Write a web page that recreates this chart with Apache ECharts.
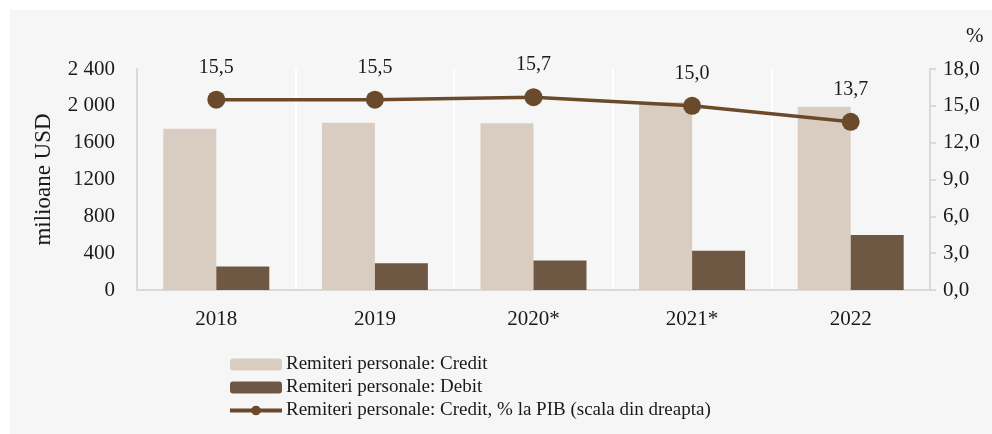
<!DOCTYPE html>
<html>
<head>
<meta charset="utf-8">
<script src="https://cdn.jsdelivr.net/npm/echarts@6/dist/echarts.min.js"></script>
<style>
    html, body { margin: 0; padding: 0; background: #fff; }
    #chart { width: 992px; height: 434px; }
</style>
</head>
<body>
<div id="chart"></div>
<script>
    // date
    var years = ['2018', '2019', '2020*', '2021*', '2022'];
    var credit = [1750, 1815, 1810, 2040, 1990];
    var debit = [255, 290, 320, 425, 597];
    var creditPib = [15.5, 15.5, 15.7, 15.0, 13.7];
    var leftTicks = {0: '0', 400: '400', 800: '800', 1200: '1200', 1600: '1600', 2000: '2 000', 2400: '2 400'};

    var font = '"Liberation Serif", serif';
    var txt = '#1a1a1a';
    var brown = '#6b4a2b';

    function initChart() {
        var myChart = echarts.init(document.getElementById('chart'));
        var option = {
            backgroundColor: '#fff',
            animation: false,
            textStyle: { fontFamily: font, color: txt },
            graphic: [
                { type: 'rect', left: 10, top: 10, shape: { width: 982, height: 424 }, style: { fill: '#f6f6f6' }, z: -10 },
                { type: 'text', left: 966, top: 26, style: { text: '%', font: '21px ' + font, fill: txt } }
            ],
            grid: { left: 137, right: 62, top: 69, bottom: 144 },
            legend: {
                orient: 'vertical',
                left: 228,
                top: 355,
                padding: 0,
                itemWidth: 52,
                itemHeight: 12,
                itemGap: 4,
                textStyle: { fontFamily: font, fontSize: 19, color: txt, lineHeight: 19, padding: [0, 0, 0, -1] },
                data: [
                    'Remiteri personale: Credit',
                    'Remiteri personale: Debit',
                    { name: 'Remiteri personale: Credit, % la PIB (scala din dreapta)', lineStyle: { width: 4 } }
                ]
            },
            xAxis: {
                type: 'category',
                data: years,
                axisLine: { lineStyle: { color: '#d9d9d9', width: 2 } },
                axisTick: { show: false },
                axisLabel: { fontFamily: font, fontSize: 21, color: txt, margin: 19 },
                splitLine: { show: true, lineStyle: { color: '#fff', width: 2 } }
            },
            yAxis: [
                {
                    type: 'value',
                    min: 0, max: 2400, interval: 400,
                    name: 'milioane USD',
                    nameLocation: 'middle',
                    nameGap: 82,
                    nameRotate: 90,
                    nameTextStyle: { fontFamily: font, fontSize: 23, color: txt },
                    axisLine: { show: true, lineStyle: { color: '#d9d9d9', width: 2 } },
                    axisTick: { show: false },
                    splitLine: { show: false },
                    axisLabel: {
                        fontFamily: font, fontSize: 21, color: txt, margin: 22,
                        formatter: function (v) { return leftTicks[v]; }
                    }
                },
                {
                    type: 'value',
                    min: 0, max: 18, interval: 3,
                    position: 'right',
                    axisLine: { show: true, lineStyle: { color: '#d9d9d9', width: 2 } },
                    axisTick: { show: true, length: 6, lineStyle: { color: '#d9d9d9', width: 2 } },
                    splitLine: { show: false },
                    axisLabel: {
                        fontFamily: font, fontSize: 21, color: txt, margin: 13,
                        formatter: function (v) { return v.toFixed(1).replace('.', ','); }
                    }
                }
            ],
            series: [
                {
                    name: 'Remiteri personale: Credit',
                    type: 'bar',
                    data: credit,
                    barWidth: 53,
                    barGap: '0%',
                    itemStyle: { color: '#d9cdc2' }
                },
                {
                    name: 'Remiteri personale: Debit',
                    type: 'bar',
                    data: debit,
                    barWidth: 53,
                    barGap: '0%',
                    itemStyle: { color: '#6f5843' }
                },
                {
                    name: 'Remiteri personale: Credit, % la PIB (scala din dreapta)',
                    type: 'line',
                    yAxisIndex: 1,
                    data: creditPib,
                    symbol: 'circle',
                    symbolSize: 18,
                    lineStyle: { color: brown, width: 3.5 },
                    itemStyle: { color: brown },
                    label: {
                        show: true,
                        position: 'top',
                        distance: 13,
                        fontFamily: font,
                        fontSize: 20,
                        color: txt,
                        formatter: function (p) { return p.value.toFixed(1).replace('.', ','); }
                    }
                }
            ]
        };
        myChart.setOption(option);
    }

    initChart();
</script>
</body>
</html>
